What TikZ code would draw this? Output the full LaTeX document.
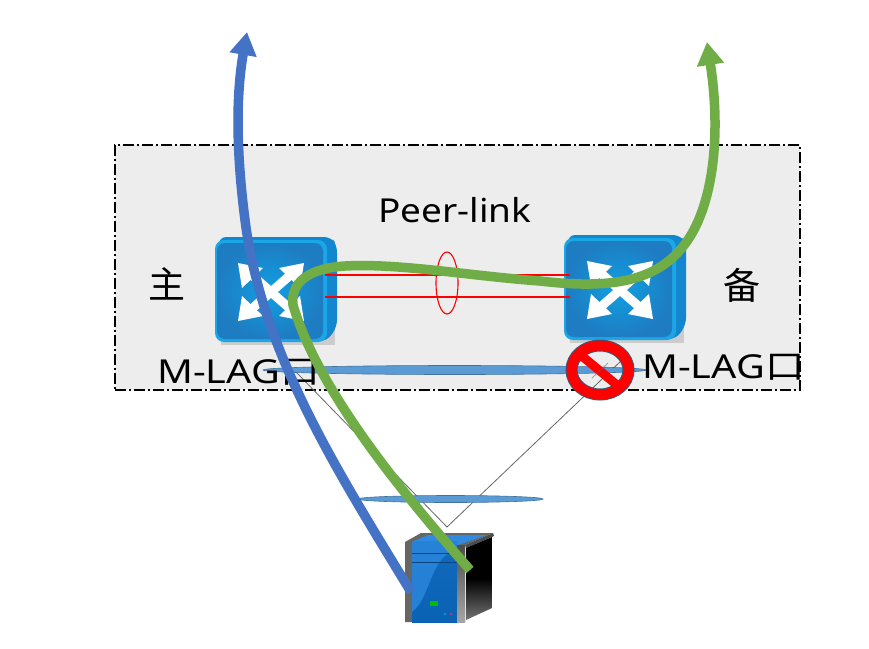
\documentclass[tikz,border=0pt]{standalone}
\usepackage{fontspec}
\setmainfont{Noto Sans}
\newfontfamily\cjk{Noto Sans CJK SC}
\usetikzlibrary{arrows.meta,shapes.geometric}
\definecolor{panel}{HTML}{EDEDED}
\definecolor{flowblue}{HTML}{4472C4}
\definecolor{flowgreen}{HTML}{70AD47}
\definecolor{lagblue}{HTML}{5B9BD5}
\definecolor{lagedge}{HTML}{41719C}
\definecolor{swside}{HTML}{1287CF}
\definecolor{swrim}{HTML}{1BA7E6}
\definecolor{swcore}{HTML}{10A0E2}
\definecolor{swedge}{HTML}{1E7CC2}
\definecolor{srvhi}{HTML}{2E8BE0}
\definecolor{srvlo}{HTML}{0A62B4}
\definecolor{peerred}{HTML}{FF0000}
\tikzset{
  flowline/.style={line width=9.5pt,line join=round,-{Triangle[length=23pt,width=26pt]}},
  lagring/.style={ellipse,draw=lagedge,line width=.6pt,fill=lagblue,inner sep=0pt},
  peerwire/.style={draw=peerred,line width=1.05pt},
  memberwire/.style={black!60,line width=.8pt},
  label/.style={inner sep=0pt,font=\fontsize{33}{36}\selectfont},
  swbox/.style={minimum width=122pt,minimum height=105pt,inner sep=0pt}
}
\newcommand{\switchart}[2]{%
  \begin{scope}[shift={(#1,#2)}]
    \fill[black!35,opacity=.45] (6,12) rectangle (120,108);
    \fill[swside,rounded corners=7pt] (4,0) -- (116,0) -- (122,8) -- (122,90) -- (112,104) -- (4,104) -- cycle;
    \fill[swrim,rounded corners=9pt] (0,3) rectangle (112,105);
    \shade[inner color=swcore,outer color=swedge,rounded corners=8pt] (2,6) rectangle (108,102);
    \begin{scope}[shift={(56,55)}]
      \foreach \sx/\sy in {1/-1,1/1,-1/-1,-1/1}{
        \draw[white,line width=9pt] (0,0) -- (\sx*24,\sy*21);
        \fill[white] (\sx*33,\sy*29) -- (\sx*8,\sy*24) -- (\sx*29,\sy*4) -- cycle;
      }
    \end{scope}
  \end{scope}}
\begin{document}
\begin{tikzpicture}[x=1pt,y=-1pt]
\useasboundingbox (0,0) rectangle (869,648);
\fill[white] (0,0) rectangle (869,648);
\node[draw=black,fill=panel,line width=1.3pt,dash pattern=on 11pt off 3pt on 2pt off 3pt,minimum width=685pt,minimum height=245pt,inner sep=0pt] (domain) at (457.5,267.5) {};

% switches
\switchart{215}{237}
\switchart{564}{235}
\node[swbox] (swL) at (276,289.5) {};
\node[swbox] (swR) at (625,287.5) {};

% peer link
\coordinate (pa) at (325,275);
\coordinate (pb) at (570,275);
\coordinate (pc) at (325,297);
\coordinate (pd) at (570,297);
\path[peerwire] (pa) -- (pb);
\path[peerwire] (pc) -- (pd);
\node[ellipse,draw=peerred,line width=1.1pt,minimum width=22pt,minimum height=62pt,inner sep=0pt] (peerring) at (447,283) {};

% labels
\node[label,xscale=1.12,transform shape] (peer) at (455,210) {Peer-link};
\node[label,font=\fontsize{37}{38}\selectfont\cjk] (main) at (167,284) {主};
\node[label,font=\fontsize{37}{38}\selectfont\cjk] (backup) at (742,285) {备};

% member links
\coordinate (apex) at (447,527);
\coordinate (lagLend) at (295,371);
\coordinate (lagRend) at (622,360);
\draw[memberwire] (lagLend) -- (apex) -- (lagRend);

% M-LAG rings
\node[lagring,minimum width=383pt,minimum height=9pt] (lagTop) at (454.5,370) {};
\node[lagring,minimum width=185pt,minimum height=7pt] (lagBottom) at (450.5,499) {};

% M-LAG text
\node[label,anchor=west,xscale=1.2,transform shape] (lagTextL) at (157,372) {M-LAG{\cjk 口}};
\node[label,anchor=west,xscale=1.2,transform shape] (lagTextR) at (642,367) {M-LAG{\cjk 口}};

% prohibition sign
\node[ellipse,minimum width=69pt,minimum height=60pt,inner sep=0pt] (noentry) at (600,370) {};
\draw[lagedge!80!black,line width=12pt] (noentry.center) ellipse (28.5pt and 24.5pt);
\draw[red,line width=10pt] (noentry.center) ellipse (28.5pt and 24.5pt);
\draw[red,line width=9pt] (577,352) -- (623,390);
\draw[memberwire,opacity=.6] (592,378) -- (608,363);

% server
\node[minimum width=89pt,minimum height=89pt,inner sep=0pt] (server) at (449.5,577.5) {};
\fill[black!60] (405,542) -- (421,533) -- (493,533) -- (465,545) -- (465,622) -- (405,622) -- cycle;
\fill[srvhi] (428,535) -- (487,535) -- (458,545) -- (414,541) -- cycle;
\shade[top color=srvlo!80!srvhi,bottom color=srvlo] (412,541) rectangle (457,622);
\fill[srvhi,opacity=.75] (412,612) .. controls (432,596) and (428,560) .. (457,548) -- (457,541) -- (412,541) -- cycle;
\draw[srvlo!70!black,line width=.5pt] (412,553) -- (457,553) (412,562) -- (457,562);
\shade[top color=black!70,bottom color=black!35] (457,545) rectangle (465,622);
\fill[black!70] (465,545) -- (493,533) -- (494,536) -- (466,548) -- cycle;
\shade[top color=black,bottom color=black!55,middle color=black] (466,548) -- (492,537) -- (492,608) -- (466,620) -- cycle;
\fill[green!75!black] (430,601) rectangle (438,606);
\fill[cyan!70!blue] (445,614) circle (1.6pt);
\fill[magenta!70!black] (451,614) circle (1.6pt);

% flows
\coordinate (blueStart) at (411,592);
\coordinate (blueTip) at (247,32);
\coordinate (greenStart) at (470,570);
\coordinate (greenTip) at (707,42);
\draw[flowblue,flowline] (blueStart) .. controls (340,475) and (262,355) .. (245,220) .. controls (236,150) and (236,95) .. (blueTip);
\draw[flowgreen,flowline] (greenStart) .. controls (400,490) and (318,390) .. (293,305) .. controls (290,282) and (310,268) .. (345,266) .. controls (400,263) and (470,276) .. (540,281) .. controls (600,288) and (650,285) .. (680,250) .. controls (712,215) and (722,140) .. (greenTip);
\end{tikzpicture}
\end{document}
